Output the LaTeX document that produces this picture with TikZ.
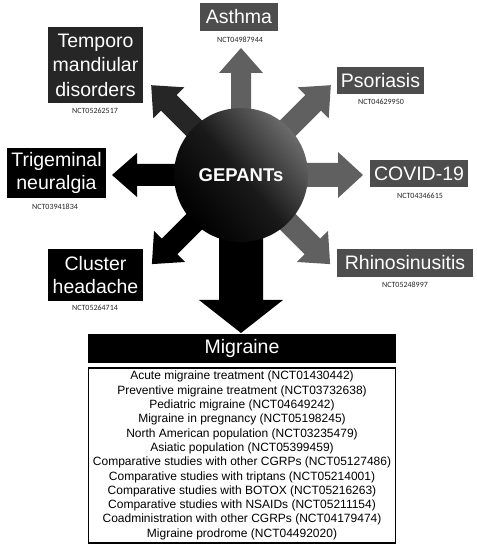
\documentclass[tikz,border=0pt]{standalone}
\usepackage{fontspec}
\setmainfont{Liberation Sans}
\newfontfamily\nctfont{Carlito}
\begin{document}
\begin{tikzpicture}[x=1pt,y=1pt,
  lbl/.style={text=white, font=\fontsize{19.5}{23}\selectfont, align=center, inner sep=0pt},
  graybox/.style={lbl, fill=boxgray},
  darkbox/.style={lbl, fill=black},
  nct/.style={font=\nctfont\fontsize{8}{9}\selectfont, inner sep=0pt, text=black!85}
]
\definecolor{boxgray}{HTML}{4D4D4D}
\definecolor{arrgray}{HTML}{606060}
\definecolor{tmdbox}{HTML}{262626}
\newcommand\blockarrow[7]{% color, center, angle, start, length, shaft half, head half
  \begin{scope}[shift={#2}, rotate=#3]
  \fill[#1] (#4,-#6) -- ({#5-25},-#6) -- ({#5-25},-#7) -- (#5,0) -- ({#5-25},#7) -- ({#5-25},#6) -- (#4,#6) -- cycle;
  \end{scope}}
\useasboundingbox (0,0) rectangle (477,550);
\coordinate (c) at (241,375);
% small arrows
\blockarrow{arrgray}{(c)}{90}{0}{127}{10}{22}
\blockarrow{arrgray}{(c)}{45}{0}{127}{11}{22}
\blockarrow{arrgray}{(c)}{0}{0}{122}{12}{23}
\blockarrow{arrgray}{(c)}{-45}{0}{126}{11}{22}
\blockarrow{black}{(c)}{-135}{0}{126}{11}{22}
\blockarrow{black}{(c)}{180}{0}{129}{11}{22}
\blockarrow{tmdbox}{(c)}{135}{0}{127}{11}{22}
% big down arrow
\begin{scope}[shift={(c)}]
\fill[black] (-22,0) -- (-22,-125) -- (-42,-125) -- (0,-158) -- (42,-125) -- (22,-125) -- (22,0) -- cycle;
\end{scope}
% circle
\node (gep) [circle, minimum size=134pt, inner sep=0pt, top color=black!58, bottom color=black, shading angle=-50, middle color=black!90,
  text=white, font=\bfseries\fontsize{18.5}{22}\selectfont] at (c) {GEPANTs};
% boxes
\node (asthma) [graybox, minimum width=78pt, minimum height=28pt] at (239,533) {Asthma};
\node (asthmaN) [nct] at (240,510) {NCT04987944};
\node (psor) [graybox, minimum width=87pt, minimum height=27pt] at (380.5,469.5) {Psoriasis};
\node (psorN) [nct] at (381,448) {NCT04629950};
\node (covid) [graybox, minimum width=98pt, minimum height=27pt] at (419,376.5) {COVID-19};
\node (covidN) [nct] at (420,354) {NCT04346615};
\node (rhino) [graybox, minimum width=136pt, minimum height=28pt] at (405,287) {Rhinosinusitis};
\node (rhinoN) [nct] at (405,265) {NCT05248997};
\node (tmd) [lbl, fill=tmdbox, minimum width=95pt, minimum height=76pt, font=\fontsize{19.5}{24.5}\selectfont] at (95.5,485) {Temporo\\mandiular\\disorders};
\node (tmdN) [nct] at (95,439) {NCT05262517};
\node (trig) [darkbox, minimum width=99pt, minimum height=50pt] at (56.5,377) {Trigeminal\\neuralgia};
\node (trigN) [nct] at (55,343) {NCT03941834};
\node (clus) [darkbox, minimum width=95pt, minimum height=52pt] at (95.5,275) {Cluster\\headache};
\node (clusN) [nct] at (95,242) {NCT05264714};
% migraine
\node (mig) [darkbox, minimum width=308pt, minimum height=29pt] at (242,201.5) {Migraine};
\node (list) [draw=black, line width=1.2pt, minimum width=307pt, minimum height=175pt, align=center, inner sep=0pt,
  font=\fontsize{12}{14.3}\selectfont] at (242,94.5) {%
Acute migraine treatment (NCT01430442)\\
Preventive migraine treatment (NCT03732638)\\
Pediatric migraine (NCT04649242)\\
Migraine in pregnancy (NCT05198245)\\
North American population (NCT03235479)\\
Asiatic population (NCT05399459)\\
Comparative studies with other CGRPs (NCT05127486)\\
Comparative studies with triptans (NCT05214001)\\
Comparative studies with BOTOX (NCT05216263)\\
Comparative studies with NSAIDs (NCT05211154)\\
Coadministration with other CGRPs (NCT04179474)\\
Migraine prodrome (NCT04492020)};
\end{tikzpicture}
\end{document}
